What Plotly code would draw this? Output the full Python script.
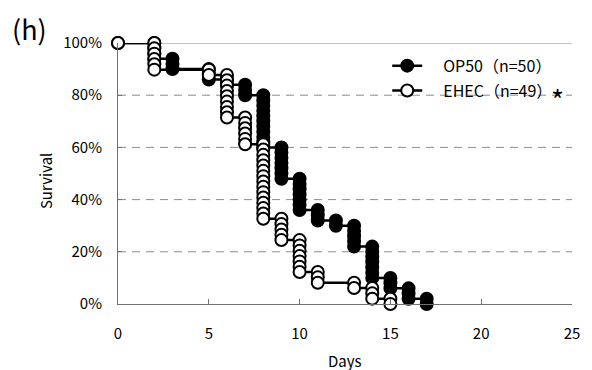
import plotly.graph_objects as go

# Survival assay: day of scoring and number of worms that died that day
op50_n = 50
op50_days = [2, 3, 5, 6, 7, 8, 9, 10, 11, 12, 13, 14, 15, 16, 17]
op50_deaths = [3, 2, 2, 1, 2, 10, 6, 6, 2, 1, 4, 6, 2, 2, 1]

ehec_n = 49
ehec_days = [2, 5, 6, 7, 8, 9, 10, 11, 13, 14, 15]
ehec_deaths = [5, 1, 8, 5, 14, 4, 6, 2, 1, 2, 1]

x_ticks = [0, 5, 10, 15, 20, 25]
y_ticks = [0, 20, 40, 60, 80, 100]
y_labels = ["0%", "20%", "40%", "60%", "80%", "100%"]

FONT = "Noto Sans CJK JP"
GAP = "\u2003"  # extra room between legend symbol and label


def km_steps(n, days, deaths):
    """Step curve with one marker per death (plus the corner of each step)."""
    xs, ys = [0], [100.0]
    alive = n
    for d, k in zip(days, deaths):
        xs.append(d)
        ys.append(alive / n * 100)
        for _ in range(k):
            alive -= 1
            xs.append(d)
            ys.append(alive / n * 100)
    return xs, ys


ox, oy = km_steps(op50_n, op50_days, op50_deaths)
ex, ey = km_steps(ehec_n, ehec_days, ehec_deaths)

fig = go.Figure()
fig.add_trace(go.Scatter(
    x=ox, y=oy, mode="lines+markers", name=GAP + "OP50（n=50）",
    line=dict(color="black", width=2.5),
    marker=dict(symbol="circle", size=12, color="black", line=dict(color="black", width=2)),
    cliponaxis=False, legendgroup="a",
))
fig.add_trace(go.Scatter(
    x=ex, y=ey, mode="lines+markers", name=GAP + "EHEC（n=49）",
    line=dict(color="black", width=2.5),
    marker=dict(symbol="circle", size=12, color="white", line=dict(color="black", width=2)),
    cliponaxis=False, legendgroup="b",
))

# horizontal guides: dashed at intermediate ticks, solid at the top
shapes = []
for v in y_ticks[1:-1]:
    shapes.append(dict(type="line", xref="paper", yref="y", x0=0, x1=1, y0=v, y1=v,
                       line=dict(color="#8c8c8c", width=1, dash="8px,6px"), layer="below"))
shapes.append(dict(type="line", xref="paper", yref="y", x0=0, x1=1, y0=100, y1=100,
                   line=dict(color="#8c8c8c", width=1), layer="below"))

fig.update_layout(
    width=592, height=370,
    margin=dict(l=118, r=12, t=43, b=65.5),
    paper_bgcolor="white", plot_bgcolor="white",
    font=dict(family=FONT, size=15, color="black"),
    shapes=shapes,
    showlegend=True,
    legend=dict(
        x=0.593, y=0.978, xanchor="left", yanchor="top",
        font=dict(family=FONT, size=16, color="black"),
        bgcolor="rgba(0,0,0,0)", traceorder="grouped", tracegroupgap=1,
    ),
    xaxis=dict(
        range=[0, 25], tickvals=x_ticks, ticks="inside", ticklen=5,
        tickcolor="#707070", showline=True, linecolor="#707070", linewidth=1,
        showgrid=False, zeroline=False, ticklabelstandoff=16,
        tickfont=dict(family=FONT, size=15),
    ),
    yaxis=dict(
        range=[0, 100], tickvals=y_ticks, ticktext=y_labels, ticks="inside", ticklen=4,
        tickcolor="#707070", showline=True, linecolor="#707070", linewidth=1,
        showgrid=False, zeroline=False, ticklabelstandoff=12,
        tickfont=dict(family=FONT, size=15),
    ),
    annotations=[
        dict(text="(h)", xref="paper", yref="paper", x=-0.195, y=1.057,
             xanchor="center", yanchor="middle", showarrow=False, font=dict(family=FONT, size=27)),
        dict(text="Survival", xref="paper", yref="paper", x=-0.158, y=0.472, textangle=-90,
             xanchor="center", yanchor="middle", showarrow=False, font=dict(family=FONT, size=15)),
        dict(text="Days", xref="paper", yref="paper", x=0.5, y=-0.215,
             xanchor="center", yanchor="middle", showarrow=False, font=dict(family=FONT, size=15)),
        dict(text="*", xref="paper", yref="paper", x=0.967, y=0.786,
             xanchor="center", yanchor="middle", showarrow=False, font=dict(family=FONT, size=28)),
    ],
)

fig.write_html("out.html")
